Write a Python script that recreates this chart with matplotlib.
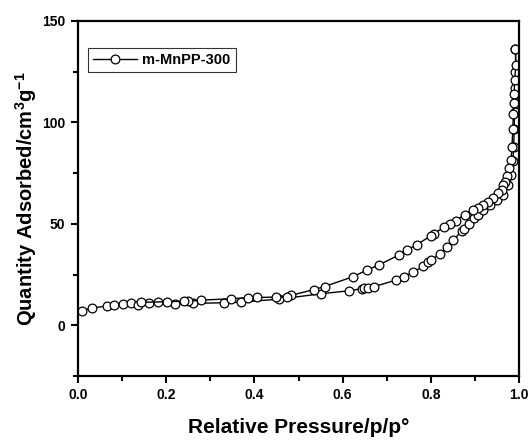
import matplotlib
matplotlib.use('Agg')
import matplotlib.pyplot as plt
from matplotlib.ticker import MultipleLocator

plt.rcParams['font.family'] = ['Liberation Sans', 'DejaVu Sans']
plt.rcParams['font.weight'] = 'bold'
plt.rcParams['mathtext.fontset'] = 'custom'
plt.rcParams['mathtext.bf'] = 'Liberation Sans:bold'
plt.rcParams['mathtext.rm'] = 'Liberation Sans:bold'
plt.rcParams['mathtext.default'] = 'bf'

# adsorption branch (p/p0, cm3/g)
ads_p = [0.010, 0.031, 0.066, 0.082, 0.101, 0.120, 0.137, 0.161, 0.181, 0.221,
         0.260, 0.332, 0.370, 0.456, 0.550, 0.614, 0.643, 0.649, 0.658, 0.672,
         0.720, 0.739, 0.760, 0.783, 0.794, 0.800, 0.821, 0.836, 0.850, 0.871,
         0.875, 0.887, 0.897, 0.908, 0.919, 0.934, 0.949, 0.964, 0.976, 0.982,
         0.986, 0.988, 0.989, 0.990, 0.990, 0.991, 0.992, 0.992]
ads_q = [7.2, 8.5, 9.5, 10.1, 10.5, 10.8, 10.1, 11.1, 11.4, 10.6,
         10.8, 11.1, 11.4, 12.9, 15.5, 17.0, 18.0, 18.3, 18.6, 19.1,
         22.2, 23.9, 26.1, 29.1, 31.0, 32.0, 35.3, 38.6, 41.8, 46.7,
         47.4, 50.0, 52.8, 54.4, 56.9, 59.3, 61.8, 64.2, 69.0, 74.0,
         81.0, 88.0, 97.0, 105.0, 110.0, 117.0, 125.0, 136.0]

# desorption branch
des_p = [0.992, 0.993, 0.990, 0.989, 0.988, 0.987, 0.986, 0.984, 0.982, 0.978,
         0.972, 0.968, 0.964, 0.961, 0.953, 0.942, 0.930, 0.919, 0.908, 0.895,
         0.877, 0.856, 0.844, 0.831, 0.807, 0.800, 0.768, 0.745, 0.727, 0.683,
         0.656, 0.623, 0.559, 0.535, 0.482, 0.473, 0.449, 0.406, 0.385, 0.348,
         0.280, 0.250, 0.240, 0.201, 0.144]
des_q = [136.0, 128.4, 120.9, 114.1, 109.5, 104.0, 96.9, 87.9, 81.7, 77.3,
         73.5, 70.7, 69.1, 66.7, 65.0, 62.6, 61.0, 59.3, 57.7, 56.9,
         54.6, 51.6, 50.1, 48.5, 45.1, 44.1, 39.7, 37.1, 34.6, 29.8,
         27.3, 23.9, 19.1, 17.6, 14.7, 14.0, 13.9, 13.7, 13.6, 13.1,
         12.4, 11.9, 11.9, 11.6, 11.3]

sample = 'm-MnPP-300'

fig = plt.figure(figsize=(5.32, 4.41), dpi=100)
ax = fig.add_axes([0.1466, 0.1474, 0.829, 0.805])

style = dict(color='black', lw=1.0, marker='o', markersize=6.3,
             markerfacecolor='white', markeredgecolor='black', markeredgewidth=0.9)
ax.plot(ads_p, ads_q, label=sample, **style)
ax.plot(des_p, des_q, **style)

ax.set_xlim(0, 1.0)
ax.set_ylim(-25, 150)
ax.xaxis.set_major_locator(MultipleLocator(0.2))
ax.xaxis.set_minor_locator(MultipleLocator(0.1))
ax.yaxis.set_major_locator(MultipleLocator(50))
ax.yaxis.set_minor_locator(MultipleLocator(25))
ax.xaxis.set_major_formatter(plt.FuncFormatter(lambda v, _: f'{v:.1f}'))

for s in ax.spines.values():
    s.set_linewidth(1.6)
ax.tick_params(which='major', direction='out', length=5, width=1.5, labelsize=10, pad=4)
ax.tick_params(which='minor', direction='out', length=3.5, width=1.5)
for lbl in ax.get_xticklabels() + ax.get_yticklabels():
    lbl.set_fontweight('bold')

ax.set_xlabel('Relative Pressure/p/p°', fontsize=15, fontweight='bold', labelpad=11)
ax.set_ylabel(r'Quantity Adsorbed/cm$^{3}$g$^{-1}$',
              fontsize=14.5, fontweight='bold', labelpad=2)

leg = ax.legend(loc='upper left', bbox_to_anchor=(0.022, 0.925), frameon=True, fancybox=False,
                edgecolor='black', fontsize=10.5, handlelength=3.0, borderpad=0.35,
                handletextpad=0.4, borderaxespad=0)
leg.get_frame().set_linewidth(0.8)
for t in leg.get_texts():
    t.set_fontweight('bold')

fig.savefig('out.png', dpi=100)
